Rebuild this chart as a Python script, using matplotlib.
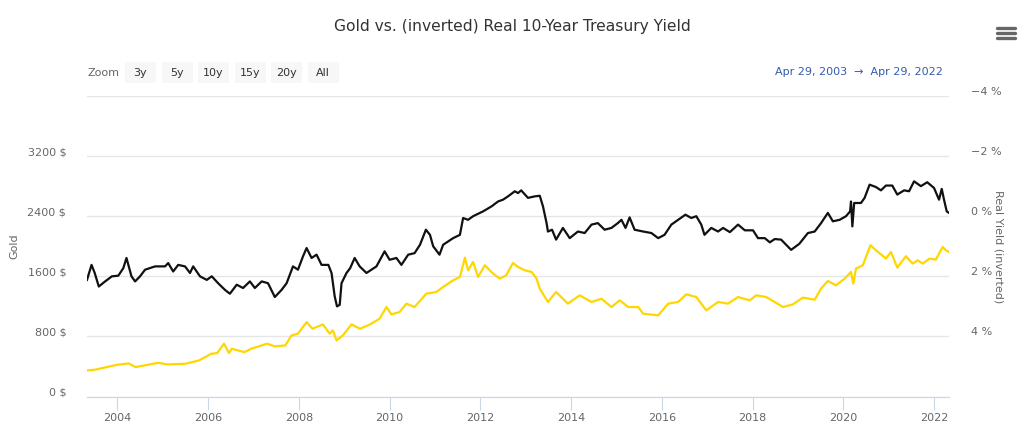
import numpy as np
import matplotlib
matplotlib.use("Agg")
from matplotlib import pyplot as plt
from matplotlib import transforms
from matplotlib.patches import FancyBboxPatch
from matplotlib.lines import Line2D

# Gold price (USD), x as decimal year
gold_years = [2003.33, 2003.5, 2004.0, 2004.25, 2004.4, 2004.9, 2005.1, 2005.5, 2005.8, 2006.07,
              2006.2, 2006.35, 2006.46, 2006.52, 2006.8, 2006.95, 2007.3, 2007.47, 2007.7, 2007.84,
              2007.98, 2008.17, 2008.3, 2008.53, 2008.68, 2008.75, 2008.83, 2008.97, 2009.16, 2009.35,
              2009.57, 2009.78, 2009.93, 2010.04, 2010.22, 2010.37, 2010.55, 2010.81, 2011.03, 2011.18,
              2011.4, 2011.55, 2011.66, 2011.73, 2011.84, 2011.95, 2012.1, 2012.28, 2012.43, 2012.57,
              2012.72, 2012.83, 2012.98, 2013.13, 2013.24, 2013.31, 2013.49, 2013.67, 2013.93, 2014.19,
              2014.45, 2014.67, 2014.89, 2015.07, 2015.26, 2015.48, 2015.59, 2015.92, 2016.14, 2016.36,
              2016.54, 2016.76, 2016.98, 2017.24, 2017.46, 2017.68, 2017.94, 2018.08, 2018.3, 2018.49,
              2018.67, 2018.89, 2019.11, 2019.37, 2019.51, 2019.66, 2019.84, 2020.03, 2020.17, 2020.22,
              2020.28, 2020.43, 2020.5, 2020.6, 2020.72, 2020.94, 2021.05, 2021.19, 2021.38, 2021.53,
              2021.64, 2021.75, 2021.9, 2022.04, 2022.19, 2022.26, 2022.33]
gold_usd = [347, 356, 423, 440, 391, 449, 427, 436, 480, 569,
            578, 703, 578, 636, 591, 636, 703, 667, 680, 813,
            836, 991, 902, 960, 836, 880, 747, 813, 960, 902,
            960, 1036, 1191, 1093, 1124, 1236, 1191, 1369, 1391, 1458,
            1547, 1591, 1849, 1680, 1791, 1591, 1747, 1636, 1569, 1613,
            1778, 1724, 1680, 1658, 1569, 1436, 1258, 1391, 1236, 1347,
            1258, 1302, 1191, 1280, 1191, 1191, 1102, 1080, 1236, 1258,
            1360, 1324, 1147, 1258, 1236, 1324, 1280, 1347, 1324, 1258,
            1191, 1227, 1316, 1289, 1436, 1538, 1480, 1569, 1658, 1502,
            1702, 1747, 1858, 2013, 1947, 1836, 1924, 1716, 1867, 1769,
            1813, 1769, 1836, 1822, 1991, 1947, 1924]

# Real 10-year treasury yield (%) (plotted on inverted axis)
yield_years = [2003.33, 2003.43, 2003.5, 2003.59, 2003.73, 2003.88, 2004.02, 2004.13, 2004.2, 2004.31,
               2004.39, 2004.5, 2004.61, 2004.83, 2005.05, 2005.12, 2005.23, 2005.34, 2005.49, 2005.6,
               2005.67, 2005.82, 2005.97, 2006.08, 2006.22, 2006.37, 2006.48, 2006.63, 2006.77, 2006.92,
               2007.03, 2007.18, 2007.32, 2007.47, 2007.62, 2007.73, 2007.87, 2007.98, 2008.09, 2008.17,
               2008.28, 2008.39, 2008.5, 2008.65, 2008.72, 2008.79, 2008.84, 2008.9, 2008.94, 2009.05,
               2009.13, 2009.23, 2009.34, 2009.49, 2009.71, 2009.89, 2010.0, 2010.15, 2010.26, 2010.41,
               2010.55, 2010.67, 2010.8, 2010.89, 2010.96, 2011.1, 2011.18, 2011.29, 2011.4, 2011.55,
               2011.62, 2011.73, 2011.84, 2012.06, 2012.25, 2012.39, 2012.5, 2012.61, 2012.76, 2012.83,
               2012.9, 2013.05, 2013.2, 2013.31, 2013.38, 2013.46, 2013.49, 2013.58, 2013.67, 2013.82,
               2013.97, 2014.15, 2014.3, 2014.45, 2014.59, 2014.74, 2014.89, 2015.03, 2015.11, 2015.2,
               2015.29, 2015.4, 2015.59, 2015.77, 2015.92, 2016.06, 2016.21, 2016.36, 2016.52, 2016.65,
               2016.76, 2016.87, 2016.94, 2017.09, 2017.24, 2017.35, 2017.5, 2017.68, 2017.83, 2018.01,
               2018.12, 2018.27, 2018.38, 2018.49, 2018.63, 2018.74, 2018.85, 2019.03, 2019.22, 2019.37,
               2019.51, 2019.66, 2019.77, 2019.92, 2020.06, 2020.15, 2020.17, 2020.2, 2020.24, 2020.39,
               2020.47, 2020.58, 2020.72, 2020.83, 2020.94, 2021.08, 2021.19, 2021.34, 2021.45, 2021.56,
               2021.71, 2021.85, 2022.0, 2022.11, 2022.17, 2022.22, 2022.28, 2022.33]
real_yield = [2.12, 1.62, 1.89, 2.34, 2.17, 2.0, 1.98, 1.73, 1.39, 2.0,
              2.17, 2.0, 1.78, 1.67, 1.67, 1.56, 1.84, 1.62, 1.67, 1.89,
              1.67, 2.0, 2.12, 2.0, 2.23, 2.45, 2.58, 2.28, 2.39, 2.17,
              2.39, 2.17, 2.23, 2.69, 2.45, 2.23, 1.67, 1.78, 1.34, 1.06,
              1.39, 1.28, 1.62, 1.62, 1.89, 2.67, 3.0, 2.95, 2.23, 1.89,
              1.73, 1.39, 1.67, 1.89, 1.67, 1.17, 1.45, 1.39, 1.62, 1.28,
              1.23, 0.95, 0.45, 0.62, 1.0, 1.28, 0.95, 0.84, 0.73, 0.62,
              0.06, 0.12, 0.0, -0.16, -0.33, -0.49, -0.55, -0.66, -0.83, -0.77,
              -0.86, -0.61, -0.66, -0.68, -0.33, 0.23, 0.51, 0.45, 0.78, 0.39,
              0.73, 0.51, 0.56, 0.28, 0.23, 0.45, 0.39, 0.23, 0.12, 0.39,
              0.04, 0.45, 0.51, 0.56, 0.73, 0.62, 0.28, 0.12, -0.05, 0.06,
              0.0, 0.28, 0.62, 0.39, 0.51, 0.39, 0.53, 0.28, 0.47, 0.47,
              0.73, 0.73, 0.87, 0.76, 0.78, 0.95, 1.12, 0.92, 0.56, 0.51,
              0.23, -0.11, 0.17, 0.12, 0.0, -0.16, -0.49, 0.34, -0.44, -0.44,
              -0.61, -1.05, -0.97, -0.86, -1.02, -1.02, -0.72, -0.86, -0.83, -1.16,
              -1.0, -1.13, -0.94, -0.55, -0.91, -0.55, -0.16, -0.11]

x_ticks = [2004, 2006, 2008, 2010, 2012, 2014, 2016, 2018, 2020, 2022]
gold_ticks = [0, 800, 1600, 2400, 3200]
yield_ticks = [-4, -2, 0, 2, 4]
zoom_buttons = ["3y", "5y", "10y", "15y", "20y", "All"]

W, H = 1024, 430
GREY = "#666666"


def px(x, y):
    # pixel position (top-left origin) -> figure fraction
    return x / W, 1 - y / H


def shift_labels_up(fig, labels, pixels):
    # Highcharts draws y labels a little above their grid line
    offset = transforms.ScaledTranslation(0, pixels / fig.dpi, fig.dpi_scale_trans)
    for lab in labels:
        lab.set_transform(lab.get_transform() + offset)


def main():
    plt.rcParams["font.family"] = ["DejaVu Sans"]
    fig = plt.figure(figsize=(W / 100, H / 100), dpi=100)

    left, right = 87, 949
    top, bottom = 96, 396.5
    ax = fig.add_axes([left / W, 1 - bottom / H, (right - left) / W, (bottom - top) / H])
    ax2 = ax.twinx()

    # gold on the left axis
    ax.plot(gold_years, gold_usd, color="#ffd700", lw=1.6, zorder=3)
    ax.set_ylim(0, 4000)
    ax.set_yticks(gold_ticks + [4000])
    ax.set_yticklabels([f"{v} $" for v in gold_ticks] + [""])
    ax.set_xlim(2003.33, 2022.33)
    ax.set_xticks(x_ticks)
    ax.set_xticklabels([str(y) for y in x_ticks])
    ax.grid(axis="y", color="#e6e6e6", lw=1)
    ax.set_axisbelow(True)

    # real yield on the right axis, inverted
    ax2.plot(yield_years, real_yield, color="#111111", lw=1.6, zorder=3)
    ax2.set_ylim(6, -4)
    ax2.set_yticks(yield_ticks)
    ax2.set_yticklabels([f"{v} %".replace("-", "\u2212") for v in yield_ticks])

    for a in (ax, ax2):
        for s in ("top", "left", "right"):
            a.spines[s].set_visible(False)
        a.spines["bottom"].set_color("#ccd6eb")
        a.tick_params(axis="y", length=0, labelsize=8, labelcolor=GREY)
    ax.tick_params(axis="y", pad=15)
    ax2.tick_params(axis="y", pad=16)
    ax.tick_params(axis="x", length=9, color="#ccd6eb", labelsize=8, labelcolor=GREY, pad=3)

    shift_labels_up(fig, ax.get_yticklabels(), 5)
    shift_labels_up(fig, ax2.get_yticklabels(), 5)

    ax.set_ylabel("Gold", color=GREY, fontsize=8, labelpad=14)
    ax.yaxis.set_label_coords(-(left - 19) / (right - left), 0.5)
    ax2.set_ylabel("Real Yield (inverted)", color=GREY, fontsize=8, rotation=270)
    ax2.yaxis.set_label_coords(1 + (1003 - right) / (right - left), 0.5)

    # title
    fig.text(*px(512, 27), "Gold vs. (inverted) Real 10-Year Treasury Yield",
             ha="center", va="center", fontsize=11.2, color="#333333")

    # range selector
    fig.text(*px(87, 73), "Zoom", ha="left", va="center", fontsize=8, color=GREY)
    bx = 125
    for name in zoom_buttons:
        x0, y0 = px(bx, 83)
        fig.patches.append(FancyBboxPatch((x0, y0), 31 / W, 21 / H,
                                          boxstyle="square,pad=0", transform=fig.transFigure,
                                          fc="#f7f7f7", ec="none"))
        fig.text(*px(bx + 15.5, 73), name, ha="center", va="center", fontsize=8, color="#333333")
        bx += 36.5
    fig.text(*px(943, 72), "Apr 29, 2003  \u2192  Apr 29, 2022", ha="right", va="center",
             fontsize=8, color="#335cad")

    # hamburger menu icon
    for yy in (28, 33, 38):
        fig.add_artist(Line2D([997 / W, 1015 / W], [1 - yy / H] * 2, transform=fig.transFigure,
                              color=GREY, lw=2.4, solid_capstyle="round"))

    fig.savefig("out.png", dpi=100, facecolor="white")


if __name__ == "__main__":
    main()
